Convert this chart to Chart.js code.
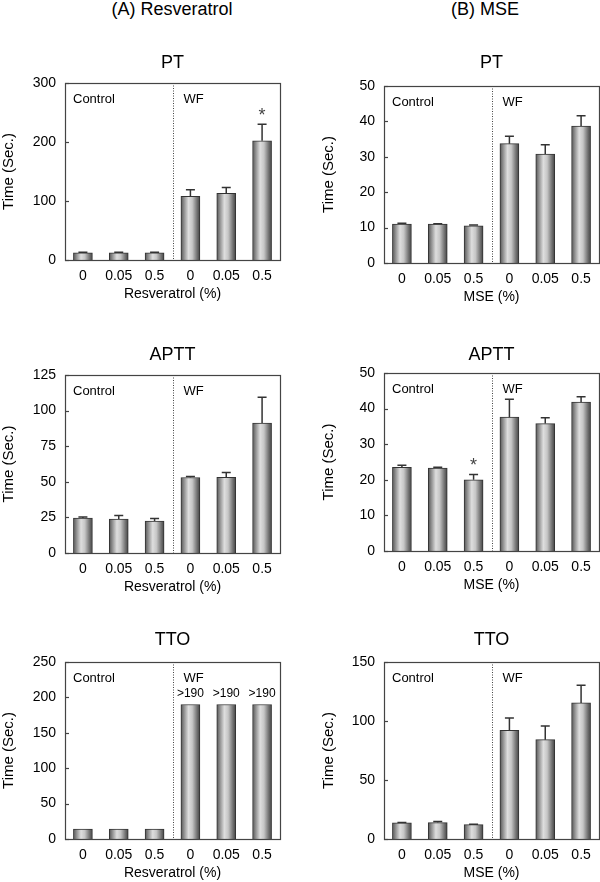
<!DOCTYPE html>
<html>
<head>
<meta charset="utf-8">
<script src="https://cdn.jsdelivr.net/npm/chart.js@4.4.0/dist/chart.umd.min.js"></script>
<style>
body { margin: 0; width: 600px; height: 882px; overflow: hidden; background: #fff; position: relative; font-family: "Liberation Sans", Arial, sans-serif; }
canvas { position: absolute; }
.hd { position: absolute; top: 0; font-size: 18px; line-height: 18px; color: #000; transform: translateX(-50%); white-space: nowrap; }
</style>
</head>
<body>
<div class="hd" style="left:172px">(A) Resveratrol</div>
<div class="hd" style="left:485px">(B) MSE</div>
<canvas id="aPT"></canvas>
<canvas id="bPT"></canvas>
<canvas id="aAPTT"></canvas>
<canvas id="bAPTT"></canvas>
<canvas id="aTTO"></canvas>
<canvas id="bTTO"></canvas>
<script>
// nhãn trục x (3 control + 3 WF)
const doses = ["0", "0.05", "0.5", "0", "0.05", "0.5"];

// (A) Resveratrol
const resPT = [12, 12, 12, 108, 113, 202];
const resPTErr = [1, 1, 1, 11, 10, 28];
const resAPTT = [24.6, 23.9, 22.5, 53, 53.2, 91.3];
const resAPTTErr = [0.7, 2.5, 1.7, 0.7, 3.3, 18];
const resTTO = [14, 14, 14, 190, 190, 190];
const resTTOErr = [0, 0, 0, 0, 0, 0];
const resTTOLabels = ["", "", "", ">190", ">190", ">190"];

// (B) MSE
const msePT = [11, 11, 10.5, 33.7, 30.8, 38.7];
const msePTErr = [0.2, 0.1, 0.2, 2.1, 2.6, 2.9];
const mseAPTT = [23.5, 23.3, 20.0, 37.6, 35.8, 41.8];
const mseAPTTErr = [0.6, 0.2, 1.5, 5, 1.6, 1.5];
const mseTTO = [13.6, 13.9, 12.2, 92.1, 84.2, 115.3];
const mseTTOErr = [0.3, 0.9, 0.3, 10.4, 11.6, 15];

const FONT = '"Liberation Sans", Arial, sans-serif';
const TXT = "#000";
const BAR_W = 19;

// tô màu cột kiểu hình trụ
function barFill(c) {
    const chart = c.chart;
    const xs = chart.scales.x;
    if (!xs || !chart.chartArea) return "#bbb";
    const cx = xs.getPixelForValue(c.dataIndex);
    const g = chart.ctx.createLinearGradient(cx - BAR_W / 2, 0, cx + BAR_W / 2, 0);
    g.addColorStop(0, "#555");
    g.addColorStop(0.15, "#8a8a8a");
    g.addColorStop(0.4, "#dedede");
    g.addColorStop(0.6, "#c6c6c6");
    g.addColorStop(0.85, "#727272");
    g.addColorStop(1, "#444");
    return g;
}

// vẽ error bar, khung, vạch chia, chữ
const decor = {
    id: "decor",
    afterDatasetsDraw(chart, args, o) {
        const ctx = chart.ctx;
        const ys = chart.scales.y;
        const bars = chart.getDatasetMeta(0).data;
        ctx.save();
        ctx.strokeStyle = "#333";
        ctx.lineWidth = 1.5;
        bars.forEach((b, i) => {
            const e = o.errors[i];
            if (!e) return;
            const top = ys.getPixelForValue(o.values[i] + e);
            ctx.beginPath();
            ctx.moveTo(b.x, b.y);
            ctx.lineTo(b.x, top);
            ctx.moveTo(b.x - 4.5, top);
            ctx.lineTo(b.x + 4.5, top);
            ctx.stroke();
        });
        ctx.restore();
    },
    afterDraw(chart, args, o) {
        const ctx = chart.ctx;
        const a = chart.chartArea;
        const xs = chart.scales.x;
        const ys = chart.scales.y;
        const bars = chart.getDatasetMeta(0).data;
        ctx.save();

        // vạch chấm giữa control / WF
        const dx = Math.round((xs.getPixelForValue(2) + xs.getPixelForValue(3)) / 2) + 0.5;
        ctx.strokeStyle = "#444";
        ctx.lineWidth = 1;
        ctx.setLineDash([1, 1.5]);
        ctx.beginPath();
        ctx.moveTo(dx, a.top);
        ctx.lineTo(dx, a.bottom);
        ctx.stroke();
        ctx.setLineDash([]);

        // khung
        ctx.strokeStyle = "#444";
        ctx.lineWidth = 1.2;
        ctx.strokeRect(Math.round(a.left) + 0.5, Math.round(a.top) + 0.5,
            Math.round(a.right - a.left), Math.round(a.bottom - a.top));

        // tick hướng vào trong
        ys.ticks.forEach(t => {
            const y = Math.round(ys.getPixelForValue(t.value)) + 0.5;
            ctx.beginPath();
            ctx.moveTo(a.left, y);
            ctx.lineTo(a.left + 4, y);
            ctx.stroke();
        });

        ctx.fillStyle = TXT;
        ctx.textBaseline = "middle";
        ctx.font = "13px " + FONT;
        ctx.textAlign = "left";
        ctx.fillText("Control", a.left + 8, a.top + 16);
        ctx.fillText("WF", dx + 10, a.top + 16);

        // dấu sao
        ctx.fillStyle = "#444";
        ctx.textAlign = "center";
        ctx.font = "18px " + FONT;
        (o.stars || []).forEach(i => {
            const top = ys.getPixelForValue(o.values[i] + o.errors[i]);
            ctx.fillText("*", bars[i].x, top - 8);
        });

        // nhãn trên cột (>190)
        ctx.fillStyle = TXT;
        ctx.font = "12px " + FONT;
        (o.topLabels || []).forEach((s, i) => {
            if (!s) return;
            ctx.fillText(s, bars[i].x, bars[i].y - 11);
        });
        ctx.restore();
    }
};

function makePanel(id, p) {
    const cv = document.getElementById(id);
    const canvasTop = p.boxTop - 40;
    const boxH = p.boxBottom - p.boxTop;
    cv.width = p.width;
    cv.height = boxH + 40 + 43;
    cv.style.left = p.left + "px";
    cv.style.top = canvasTop + "px";
    const padTop = p.titleY - canvasTop - 10.8;
    const padBottom = 40 - 21.6 - padTop;

    new Chart(cv, {
        type: "bar",
        data: {
            labels: doses,
            datasets: [{
                data: p.values,
                backgroundColor: barFill,
                borderColor: "#333",
                borderWidth: 1,
                barThickness: BAR_W
            }]
        },
        options: {
            responsive: false,
            animation: false,
            layout: { padding: { left: 0, right: p.padRight, top: 0, bottom: 0 } },
            plugins: {
                legend: { display: false },
                tooltip: { enabled: false },
                title: {
                    display: true,
                    text: p.title,
                    fullSize: false,
                    color: TXT,
                    font: { family: FONT, size: 18, weight: "normal" },
                    padding: { top: padTop, bottom: padBottom }
                },
                decor: {
                    values: p.values,
                    errors: p.errors,
                    stars: p.stars,
                    topLabels: p.topLabels
                }
            },
            scales: {
                x: {
                    grid: { display: false, drawTicks: false },
                    border: { display: false },
                    ticks: { color: TXT, font: { family: FONT, size: 14 }, padding: 8, maxRotation: 0 },
                    title: { display: true, text: p.xTitle, color: TXT, font: { family: FONT, size: 14 }, padding: 0 },
                    afterFit: s => { s.height = 43; }
                },
                y: {
                    min: 0,
                    max: p.max,
                    grid: { display: false, drawTicks: false },
                    border: { display: false },
                    ticks: { stepSize: p.step, color: TXT, font: { family: FONT, size: 14 }, padding: 9 },
                    title: { display: true, text: "Time (Sec.)", color: TXT, font: { family: FONT, size: 15 }, padding: 0 },
                    afterFit: s => { s.width = p.yWidth; }
                }
            }
        },
        plugins: [decor]
    });
}

const colA = { left: 0, width: 300, padRight: 20, yWidth: 65, xTitle: "Resveratrol (%)" };
const colB = { left: 320, width: 280, padRight: 1, yWidth: 64, xTitle: "MSE (%)" };

makePanel("aPT", Object.assign({}, colA, { title: "PT", boxTop: 83, boxBottom: 260, titleY: 63,
    values: resPT, errors: resPTErr, max: 300, step: 100, stars: [5] }));
makePanel("bPT", Object.assign({}, colB, { title: "PT", boxTop: 86, boxBottom: 263, titleY: 63,
    values: msePT, errors: msePTErr, max: 50, step: 10 }));
makePanel("aAPTT", Object.assign({}, colA, { title: "APTT", boxTop: 375, boxBottom: 553, titleY: 355,
    values: resAPTT, errors: resAPTTErr, max: 125, step: 25 }));
makePanel("bAPTT", Object.assign({}, colB, { title: "APTT", boxTop: 373, boxBottom: 551, titleY: 355,
    values: mseAPTT, errors: mseAPTTErr, max: 50, step: 10, stars: [2] }));
makePanel("aTTO", Object.assign({}, colA, { title: "TTO", boxTop: 662, boxBottom: 839, titleY: 640,
    values: resTTO, errors: resTTOErr, max: 250, step: 50, topLabels: resTTOLabels }));
makePanel("bTTO", Object.assign({}, colB, { title: "TTO", boxTop: 662, boxBottom: 839, titleY: 640,
    values: mseTTO, errors: mseTTOErr, max: 150, step: 50 }));
</script>
</body>
</html>
